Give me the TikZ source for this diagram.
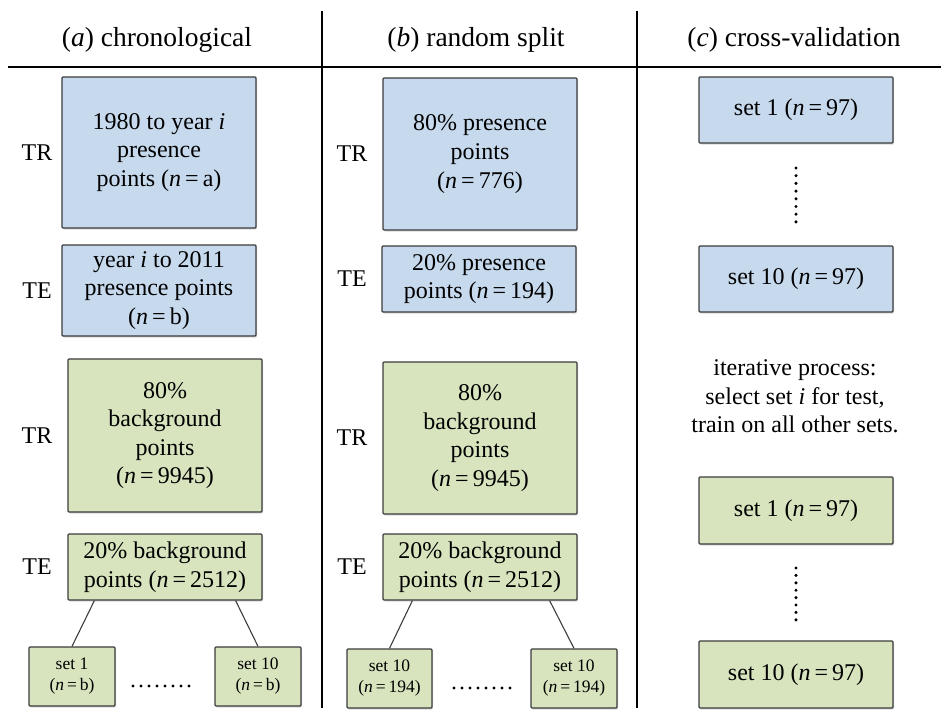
\documentclass[tikz,border=0pt]{standalone}
\usepackage{fontspec}
\setmainfont{Liberation Serif}
\usetikzlibrary{shadows}
\definecolor{boxblue}{RGB}{198,217,237}
\definecolor{boxgreen}{RGB}{216,228,190}
\definecolor{boxline}{RGB}{60,60,60}
\newcommand{\nn}{\textit{n}\,=\,}
\begin{document}
\begin{tikzpicture}[x=1pt,y=-1pt,
  basebox/.style={draw=boxline, line width=1.3pt, rounded corners=1pt, align=center, inner sep=0pt,
    drop shadow={shadow xshift=1.2pt, shadow yshift=-1.5pt, opacity=0.3},
    font=\fontsize{24}{28.6}\selectfont},
  bbox/.style={basebox, fill=boxblue},
  gbox/.style={basebox, fill=boxgreen},
  smallbox/.style={gbox, font=\fontsize{17.5}{21}\selectfont},
  lbl/.style={font=\fontsize{24}{28.6}\selectfont, inner sep=0pt},
  hdr/.style={font=\fontsize{27.5}{33}\selectfont, inner sep=0pt},
  rule/.style={line width=2.4pt, black},
  link/.style={line width=1.1pt, boxline},
  dot/.style={fill=black}]
\useasboundingbox (0,0) rectangle (941,716);
% rules
\draw[rule] (8,67) -- (941,67);
\draw[rule] (322,11) -- (322,708);
\draw[rule] (637,11) -- (637,708);
% headers
\node[hdr] (ha) at (157,40) {(\textit{a}) chronological};
\node[hdr] (hb) at (476,40) {(\textit{b}) random split};
\node[hdr] (hc) at (794,40) {(\textit{c}) cross-validation};
% column a
\node[bbox, minimum width=194pt, minimum height=151pt] (a1) at (159,152.5) {1980 to year \textit{i}\\presence\\points (\nn a)};
\node[bbox, minimum width=194pt, minimum height=91pt] (a2) at (159,290.5) {year \textit{i} to 2011\\presence points\\(\nn b)};
\node[gbox, minimum width=194pt, minimum height=153pt] (a3) at (165,435.5) {80\%\\background\\points\\(\nn 9945)};
\node[gbox, minimum width=194pt, minimum height=66pt] (a4) at (165,567) {20\% background\\points (\nn 2512)};
\node[smallbox, minimum width=86pt, minimum height=59pt] (a5) at (72,676.5) {set 1\\(\nn b)};
\node[smallbox, minimum width=86pt, minimum height=59pt] (a6) at (258,676.5) {set 10\\(\nn b)};
\node[lbl] (la1) at (37,152.5) {TR};
\node[lbl] (la2) at (37,290.5) {TE};
\node[lbl] (la3) at (37,435.5) {TR};
\node[lbl] (la4) at (37,567) {TE};
\draw[link] ([xshift=27pt]a4.south west) -- (a5.north);
\draw[link] ([xshift=-27pt]a4.south east) -- (a6.north);
\foreach \i in {0,...,7} \fill[dot] (133+8*\i,686) circle (1.7pt);
% column b
\node[bbox, minimum width=194pt, minimum height=152pt] (b1) at (480,154) {80\% presence\\points\\(\nn 776)};
\node[bbox, minimum width=194pt, minimum height=66pt] (b2) at (479,279) {20\% presence\\points (\nn 194)};
\node[gbox, minimum width=194pt, minimum height=152pt] (b3) at (480,438) {80\%\\background\\points\\(\nn 9945)};
\node[gbox, minimum width=194pt, minimum height=66pt] (b4) at (480,567) {20\% background\\points (\nn 2512)};
\node[smallbox, minimum width=85pt, minimum height=59pt] (b5) at (389.5,678.5) {set 10\\(\nn 194)};
\node[smallbox, minimum width=86pt, minimum height=59pt] (b6) at (574,678.5) {set 10\\(\nn 194)};
\node[lbl] (lb1) at (352,154) {TR};
\node[lbl] (lb2) at (352,279) {TE};
\node[lbl] (lb3) at (352,438) {TR};
\node[lbl] (lb4) at (352,567) {TE};
\draw[link] ([xshift=30pt]b4.south west) -- (b5.north);
\draw[link] ([xshift=-28pt]b4.south east) -- (b6.north);
\foreach \i in {0,...,7} \fill[dot] (454+8*\i,688) circle (1.7pt);
% column c
\node[bbox, minimum width=194pt, minimum height=66pt] (c1) at (796,110) {set 1 (\nn 97)};
\node[bbox, minimum width=194pt, minimum height=66pt] (c2) at (796,279) {set 10 (\nn 97)};
\node[lbl, align=center, font=\fontsize{24}{28.6}\selectfont] (ct) at (795,396.5) {iterative process:\\select set \textit{i} for test,\\train on all other sets.};
\node[gbox, minimum width=194pt, minimum height=67pt] (c3) at (796,510.5) {set 1 (\nn 97)};
\node[gbox, minimum width=194pt, minimum height=67pt] (c4) at (796,674.5) {set 10 (\nn 97)};
\foreach \i in {0,...,7} \fill[dot] (796,168+7.7*\i) circle (1.7pt);
\foreach \i in {0,...,7} \fill[dot] (796,568+7.4*\i) circle (1.7pt);
\end{tikzpicture}
\end{document}
